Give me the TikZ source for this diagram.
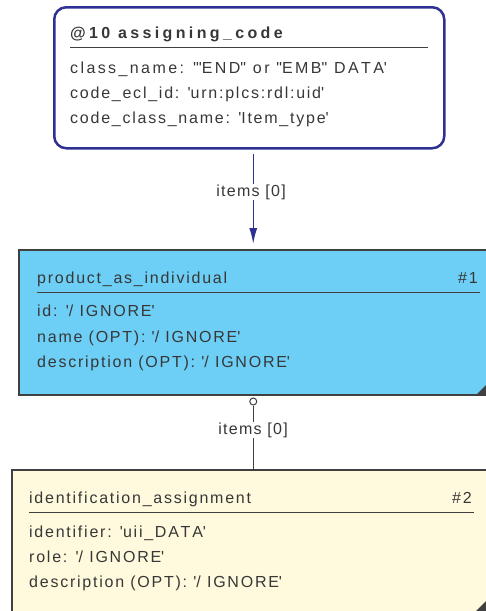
\documentclass[tikz,border=0pt]{standalone}
\usepackage{fontspec}
\setmainfont{Liberation Sans}[Kerning=Off]
\usetikzlibrary{arrows.meta}
\definecolor{navy}{RGB}{46,49,146}
\definecolor{skyfill}{RGB}{109,207,246}
\definecolor{creamfill}{RGB}{255,250,221}
\definecolor{edgegray}{RGB}{64,64,64}
\definecolor{textgray}{RGB}{55,55,55}
\newcommand{\sq}{\textquotesingle}
\newcommand{\dq}{\textquotedbl}
\tikzset{
  field/.style={anchor=base west, inner sep=0pt, text=textgray,
    font=\fontsize{16}{18}\selectfont\addfontfeatures{LetterSpace=11}},
  widefield/.style={field, font=\fontsize{16}{18}\selectfont\addfontfeatures{LetterSpace=15}},
  idx/.style={field, anchor=base east},
  boldtitle/.style={field, font=\fontsize{16}{18}\selectfont\bfseries\addfontfeatures{LetterSpace=21}},
  box/.style={draw=edgegray, line width=1.5pt, anchor=north west, inner sep=0pt},
  linklabel/.style={fill=white, inner sep=1pt, text=textgray,
    font=\fontsize{16}{18}\selectfont\addfontfeatures{LetterSpace=8}}
}
\begin{document}
\begin{tikzpicture}[x=1pt,y=-1pt]
            \useasboundingbox (0,0) rectangle (486,611);
            \clip (0,0) rectangle (486,611);
            \node[draw=navy, line width=2.5pt, rounded corners=12pt, anchor=north west, inner sep=0pt,
                  minimum width=390pt, minimum height=141pt] (asg) at (53,6) {};
            \node[box, fill=skyfill, minimum width=469pt, minimum height=145pt] (pai) at (18,249) {};
            \node[box, fill=creamfill, minimum width=484pt, minimum height=160pt] (ida) at (11,469) {};
            \fill[edgegray] (487,384) -- (487,394) -- (477,394) -- cycle;
            \fill[edgegray] (487,600) -- (487,612) -- (475,612) -- cycle;

            \node[boldtitle] (asgT) at (70,38) {@10 assigning\_code};
            \draw[edgegray, line width=0.8pt] (70,47) -- (428,47);
            \node[widefield] (asg1) at (70,73) {class\_name: \sq\dq END\dq{} or \dq EMB\dq{} DATA\sq};
            \node[field] (asg2) at (70,98) {code\_ecl\_id: \sq urn:plcs:rdl:uid\sq};
            \node[field] (asg3) at (70,123) {code\_class\_name: \sq Item\_type\sq};

            \node[field] (paiT) at (37,283) {product\_as\_individual};
            \node[idx] (paiN) at (478,283) {\#1};
            \draw[edgegray, line width=0.8pt] (37,292) -- (480,292);
            \node[field] (pai1) at (37,316) {id: \sq/ IGNORE\sq};
            \node[field] (pai2) at (37,342) {name (OPT): \sq/ IGNORE\sq};
            \node[field] (pai3) at (37,367) {description (OPT): \sq/ IGNORE\sq};

            \node[field] (idaT) at (29,503) {identification\_assignment};
            \node[idx] (idaN) at (472,503) {\#2};
            \draw[edgegray, line width=0.8pt] (29,512) -- (474,512);
            \node[field] (ida1) at (29,537) {identifier: \sq uii\_DATA\sq};
            \node[field] (ida2) at (29,562) {role: \sq/ IGNORE\sq};
            \node[field] (ida3) at (29,587) {description (OPT): \sq/ IGNORE\sq};

            \draw[navy, line width=1.5pt, -{Latex[length=16pt,width=8pt]}, shorten <=4pt, shorten >=5pt]
                (asg.south -| pai.north) -- (pai.north);
            \node[linklabel] (lnk1) at (251,192) {items [0]};

            \node[circle, draw=edgegray, fill=white, line width=1pt, inner sep=0pt, minimum size=7pt,
                  anchor=north] (opt) at ([yshift=-2pt]pai.south) {};
            \draw[edgegray, line width=1.5pt] (opt.south) -- (ida.north -| opt.south);
            \node[linklabel] (lnk2) at (253,430) {items [0]};
\end{tikzpicture}
\end{document}
